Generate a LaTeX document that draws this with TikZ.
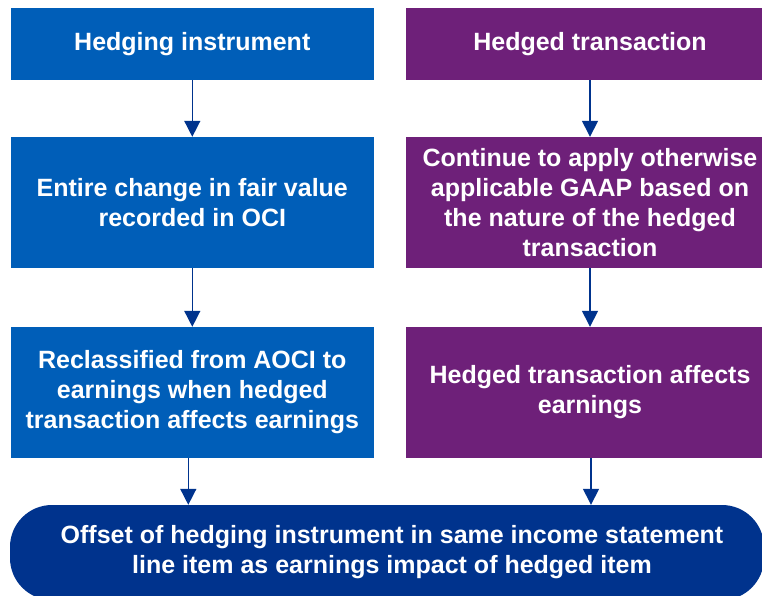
\documentclass[tikz,border=0pt]{standalone}
\usepackage{fontspec}
\setmainfont{Liberation Sans}
\usetikzlibrary{arrows.meta}
\definecolor{kblue}{HTML}{005EB8}
\definecolor{kpurple}{HTML}{6E2079}
\definecolor{kdark}{HTML}{00338D}
\tikzset{
  box/.style={rectangle, inner sep=0pt, text=white, align=center,
    font=\bfseries\fontsize{25}{30}\selectfont},
  lbox/.style={box, fill=kblue, minimum width=363.5pt},
  rbox/.style={box, fill=kpurple, minimum width=369pt},
  arr/.style={draw=kdark, line width=1.5pt, -{Triangle[length=16pt,width=16pt]}},
  pill/.style={box, fill=kdark, rounded corners=42pt, minimum width=754pt, minimum height=95pt}
}
\begin{document}
\begin{tikzpicture}[x=1pt,y=1pt]
\clip (0,0) rectangle (762,-596);
\fill[white] (0,0) rectangle (762,-596);
\node[lbox, minimum height=72pt] (L1) at (192.3,-44) {Hedging instrument};
\node[lbox, minimum height=131pt] (L2) at (192.3,-202.5) {Entire change in fair value\\recorded in OCI};
\node[lbox, minimum height=131pt] (L3) at (192.3,-392.5) {Reclassified from AOCI to\\earnings when hedged\\transaction affects earnings};
\node[rbox, minimum height=72pt] (R1) at (590,-44) {Hedged transaction};
\node[rbox, minimum height=131pt] (R2) at (590,-202.5) {Continue to apply otherwise\\applicable GAAP based on\\the nature of the hedged\\transaction};
\node[rbox, minimum height=131pt] (R3) at (590,-392.5) {Hedged transaction affects\\earnings};
\node[pill] (P) at (387,-552.5) {\hspace*{10pt}Offset of hedging instrument in same income statement\\\hspace*{10pt}line item as earnings impact of hedged item};
\draw[arr] (L1.south) -- (L2.north);
\draw[arr] (L2.south) -- (L3.north);
\draw[arr] (R1.south) -- (R2.north);
\draw[arr] (R2.south) -- (R3.north);
\draw[arr] ([xshift=-4pt]L3.south) -- ([xshift=-4pt]L3.south |- P.north);
\draw[arr] ([xshift=1pt]R3.south) -- ([xshift=1pt]R3.south |- P.north);
\end{tikzpicture}
\end{document}
